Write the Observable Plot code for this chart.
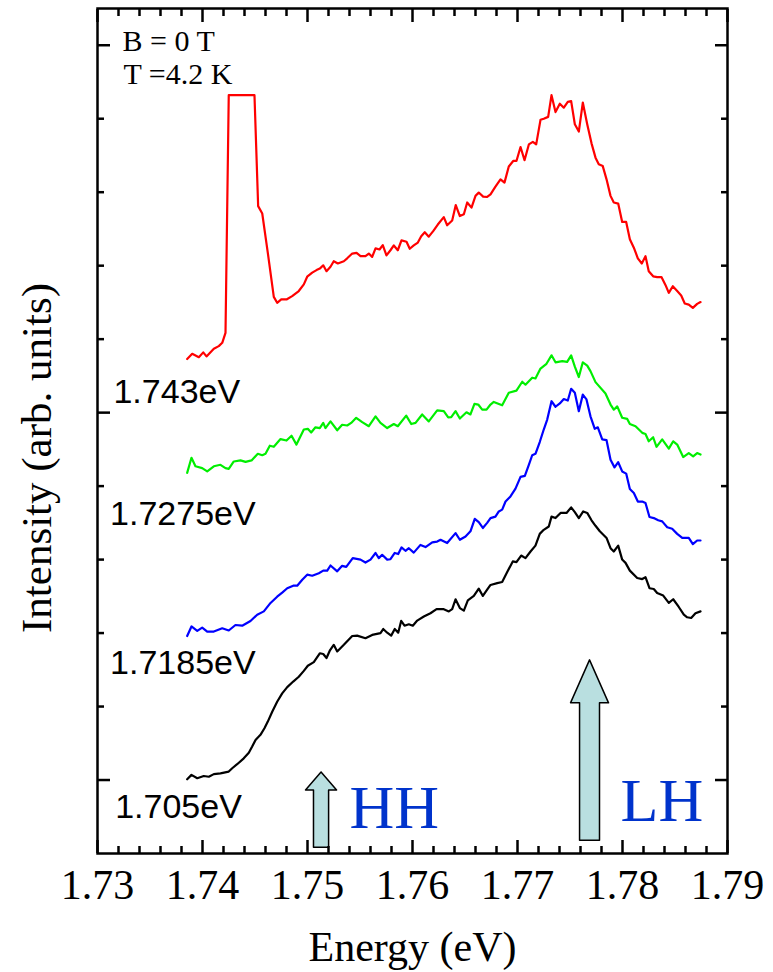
<!DOCTYPE html>
<html>
<head>
<meta charset="utf-8">
<script src="https://cdn.jsdelivr.net/npm/d3@7"></script>
<script src="https://cdn.jsdelivr.net/npm/@observablehq/plot@0.6"></script>
<style>
  html, body { margin: 0; padding: 0; background: #ffffff; }
  #chart { width: 773px; height: 972px; }
</style>
</head>
<body>
<div id="chart"></div>
<script>
// ---- Data ----
// Excitation energies of the four spectra
const seriesNames = ["1.743eV", "1.7275eV", "1.7185eV", "1.705eV"];
const seriesColors = ["#ff0000", "#00ee00", "#0000ff", "#000000"];

// Energies (eV) and intensities (arb. units) of each spectrum
const energy1743 = [
  1.73854,1.73902,1.73965,1.74007,1.74038,1.74108,1.74155,1.74188,1.74219,1.74250,
  1.74495,1.74530,1.74569,1.74622,1.74679,1.74711,1.74750,1.74800,1.74854,1.74917,
  1.74965,1.74997,1.75045,1.75086,1.75117,1.75150,1.75181,1.75219,1.75250,1.75289,
  1.75346,1.75378,1.75426,1.75467,1.75505,1.75552,1.75584,1.75616,1.75648,1.75686,
  1.75717,1.75752,1.75790,1.75822,1.75860,1.75895,1.75943,1.75974,1.76012,1.76051,
  1.76083,1.76117,1.76155,1.76197,1.76241,1.76298,1.76330,1.76378,1.76412,1.76451,
  1.76489,1.76521,1.76562,1.76600,1.76631,1.76673,1.76711,1.76743,1.76790,1.76838,
  1.76876,1.76917,1.76959,1.76990,1.77029,1.77067,1.77108,1.77146,1.77178,1.77219,
  1.77250,1.77292,1.77324,1.77362,1.77403,1.77441,1.77479,1.77511,1.77546,1.77584,
  1.77622,1.77664,1.77705,1.77743,1.77774,1.77812,1.77848,1.77886,1.77917,1.77959,
  1.77997,1.78035,1.78070,1.78108,1.78146,1.78184,1.78219,1.78250,1.78292,1.78330,
  1.78371,1.78410,1.78441,1.78479,1.78521,1.78559,1.78593,1.78631,1.78670,1.78711,1.78743
];
const intensity1743 = [
  114.6,116.0,115.1,116.4,115.3,117.4,118.1,119.0,121.7,186.4,
  186.4,156.2,154.2,143.5,131.5,129.9,130.8,130.8,131.7,133.1,
  134.9,137.0,138.1,138.8,139.2,140.1,138.5,139.7,141.2,140.6,
  141.2,142.0,143.3,143.5,142.6,142.6,143.3,142.4,144.7,144.4,
  145.6,142.8,144.2,145.5,144.2,146.9,146.5,144.6,145.5,146.3,
  148.0,149.1,147.9,149.4,151.2,153.2,151.0,152.3,156.5,153.5,
  154.0,157.2,155.8,159.0,159.9,158.8,158.7,159.4,161.5,163.5,
  162.6,167.0,168.5,168.5,172.3,168.7,173.0,173.7,173.0,179.7,
  180.0,180.5,186.4,181.8,184.1,183.0,184.6,184.8,178.5,176.5,
  184.4,178.5,173.3,169.4,167.6,167.1,163.5,159.0,157.2,156.9,
  151.9,151.9,147.2,144.9,142.0,140.6,142.6,138.5,137.1,136.9,
  136.9,134.7,132.6,134.4,133.1,131.9,129.7,129.4,128.5,129.6,130.1
];

const energy17275 = [
  1.73854,1.73895,1.73933,1.73997,1.74045,1.74108,1.74171,1.74219,1.74250,1.74298,
  1.74362,1.74410,1.74467,1.74527,1.74569,1.74600,1.74641,1.74679,1.74743,1.74800,
  1.74848,1.74895,1.74965,1.75003,1.75035,1.75076,1.75117,1.75150,1.75171,1.75219,
  1.75283,1.75330,1.75378,1.75416,1.75464,1.75521,1.75584,1.75648,1.75695,1.75759,
  1.75822,1.75860,1.75940,1.75988,1.76029,1.76092,1.76155,1.76235,1.76298,1.76340,
  1.76369,1.76410,1.76451,1.76514,1.76552,1.76590,1.76626,1.76664,1.76705,1.76743,
  1.76774,1.76854,1.76917,1.76990,1.77045,1.77076,1.77140,1.77171,1.77219,1.77276,
  1.77324,1.77362,1.77426,1.77473,1.77511,1.77546,1.77584,1.77622,1.77664,1.77695,
  1.77743,1.77838,1.77886,1.77917,1.77950,1.77997,1.78045,1.78070,1.78124,1.78188,
  1.78219,1.78250,1.78292,1.78324,1.78378,1.78441,1.78483,1.78521,1.78578,1.78631,
  1.78673,1.78711,1.78743
];
const intensity17275 = [
  83.6,87.7,85.4,84.9,84.0,85.4,85.8,84.9,84.7,86.7,
  87.0,86.6,87.0,88.8,88.4,88.8,91.0,90.7,92.8,92.4,
  93.7,91.3,95.4,95.6,94.6,96.0,95.8,97.2,95.8,97.6,
  95.2,96.7,96.5,97.2,98.6,97.4,96.3,99.0,97.2,95.8,
  96.9,96.3,99.2,96.9,97.2,99.5,97.6,100.6,100.4,98.7,
  98.8,100.4,98.4,100.1,99.5,102.4,102.2,100.8,100.8,102.2,
  102.9,102.0,105.4,106.0,108.4,107.6,109.5,109.3,112.0,113.3,
  115.6,113.7,114.0,113.8,115.6,112.5,109.7,113.7,112.8,111.3,
  108.3,105.2,102.2,100.8,101.7,98.6,98.3,96.9,96.3,94.5,
  94.2,92.2,93.3,90.7,92.7,90.2,92.2,91.3,87.9,89.0,
  88.1,89.0,88.6
];

const energy17185 = [
  1.73854,1.73895,1.73950,1.73997,1.74045,1.74108,1.74188,1.74250,1.74314,1.74378,
  1.74457,1.74521,1.74584,1.74648,1.74711,1.74759,1.74807,1.74864,1.74902,1.74950,
  1.74997,1.75045,1.75108,1.75150,1.75188,1.75219,1.75283,1.75330,1.75369,1.75431,
  1.75505,1.75552,1.75600,1.75648,1.75679,1.75711,1.75759,1.75790,1.75831,1.75864,
  1.75895,1.75933,1.75965,1.76012,1.76076,1.76124,1.76188,1.76235,1.76267,1.76330,
  1.76410,1.76451,1.76505,1.76552,1.76593,1.76631,1.76670,1.76711,1.76743,1.76790,
  1.76822,1.76854,1.76886,1.76933,1.76981,1.77029,1.77070,1.77108,1.77140,1.77171,
  1.77212,1.77250,1.77283,1.77324,1.77362,1.77403,1.77441,1.77479,1.77511,1.77546,
  1.77584,1.77622,1.77657,1.77695,1.77736,1.77765,1.77807,1.77848,1.77886,1.77924,
  1.77959,1.77997,1.78035,1.78070,1.78108,1.78146,1.78188,1.78219,1.78257,1.78298,
  1.78340,1.78378,1.78426,1.78473,1.78521,1.78569,1.78631,1.78670,1.78711,1.78743
];
const intensity17185 = [
  39.2,41.8,40.6,41.5,40.4,40.4,41.3,40.7,42.2,42.0,
  43.3,45.0,45.9,48.2,49.9,51.0,52.2,52.9,52.9,54.5,
  55.9,55.6,56.3,57.0,57.0,58.4,56.8,58.3,58.0,60.4,
  60.0,59.2,60.0,61.8,60.4,61.3,60.0,60.1,61.8,61.5,
  63.3,62.4,63.1,61.9,64.0,63.4,64.7,64.9,65.4,64.5,
  67.2,65.4,66.3,67.7,71.1,70.2,68.6,70.0,71.3,71.7,
  73.1,73.6,75.8,77.2,79.3,82.5,82.8,85.8,88.4,88.8,
  92.0,95.4,98.1,103.1,101.6,102.5,103.7,103.3,106.5,105.4,
  100.4,104.9,103.6,99.0,95.6,96.0,92.7,92.5,87.2,85.1,
  86.5,84.0,83.4,79.2,78.1,75.8,75.8,75.4,71.6,71.3,
  70.7,70.4,68.8,68.4,67.0,65.9,65.9,64.2,65.2,65.2
];

const energy1705 = [
  1.73854,1.73895,1.73950,1.74012,1.74060,1.74108,1.74171,1.74250,1.74283,1.74330,
  1.74393,1.74441,1.74473,1.74505,1.74552,1.74590,1.74622,1.74664,1.74711,1.74759,
  1.74807,1.74864,1.74917,1.74965,1.75003,1.75060,1.75117,1.75150,1.75181,1.75212,
  1.75250,1.75283,1.75346,1.75426,1.75473,1.75552,1.75616,1.75695,1.75721,1.75759,
  1.75797,1.75831,1.75864,1.75892,1.75924,1.75965,1.76003,1.76045,1.76108,1.76171,
  1.76229,1.76298,1.76346,1.76378,1.76410,1.76451,1.76489,1.76527,1.76584,1.76631,
  1.76670,1.76711,1.76743,1.76807,1.76854,1.76902,1.76955,1.76990,1.77035,1.77076,
  1.77124,1.77171,1.77212,1.77250,1.77298,1.77324,1.77362,1.77410,1.77467,1.77511,
  1.77546,1.77584,1.77626,1.77664,1.77705,1.77743,1.77784,1.77848,1.77886,1.77917,
  1.77959,1.77997,1.78029,1.78070,1.78140,1.78188,1.78219,1.78257,1.78298,1.78330,
  1.78388,1.78441,1.78483,1.78536,1.78584,1.78616,1.78654,1.78695,1.78743
];
const intensity1705 = [
  0.2,1.4,0.5,1.1,0.9,1.6,1.8,2.3,3.2,4.3,
  5.9,7.4,9.1,10.9,12.3,14.1,15.9,18.6,21.3,23.6,
  25.3,26.8,28.1,29.7,31.1,32.1,34.5,34.3,33.2,35.2,
  36.8,35.0,36.8,39.2,39.3,38.6,39.5,40.0,41.1,40.1,
  39.3,41.1,40.1,43.3,42.0,42.4,42.0,43.4,44.5,45.4,
  46.5,46.5,45.9,46.5,49.2,46.8,46.1,48.9,50.1,52.1,
  50.1,51.8,53.1,53.6,53.9,56.6,59.5,59.3,61.1,60.4,
  62.2,63.8,67.0,68.1,69.0,71.7,71.3,72.7,72.7,74.2,
  72.9,71.3,73.1,72.7,70.7,69.2,67.7,65.9,63.1,62.2,
  63.8,60.0,59.1,57.0,55.0,54.7,55.2,52.2,52.0,50.9,
  50.2,48.2,49.2,47.1,45.0,44.3,44.1,45.4,45.9
];

// Where each spectrum's label sits (eV, arb. units)
const labelEnergy = [1.73152, 1.73120, 1.73120, 1.73168];
const labelIntensity = [102.7, 69.5, 28.9, -10.4];

// Transition arrows: HH and LH
const arrowNames = ["HH", "LH"];
const arrowEnergy = [1.75129, 1.77686];
const arrowFrom = [-18.3, -16.4];
const arrowTo = [2.2, 32.7];
const arrowLabelEnergy = [1.75400, 1.77981];
const arrowLabelIntensity = [-13.1, -11.2];

// Axis ticks
const xMajor = [1.73, 1.74, 1.75, 1.76, 1.77, 1.78, 1.79];
const xTickLabels = ["1.73", "1.74", "1.75", "1.76", "1.77", "1.78", "1.79"];
const xMinor = [1.732,1.734,1.736,1.738,1.742,1.744,1.746,1.748,1.752,1.754,1.756,1.758,
  1.762,1.764,1.766,1.768,1.772,1.774,1.776,1.778,1.782,1.784,1.786,1.788];
const yMajor = [0, 100, 200];
const yMinor = [20, 40, 60, 80, 120, 140, 160, 180];

const infoLine1 = "B = 0 T";
const infoLine2 = "T =4.2 K";

// ---- Build tables ----
const energies = [energy1743, energy17275, energy17185, energy1705];
const intensities = [intensity1743, intensity17275, intensity17185, intensity1705];
const spectra = seriesNames.map((name, k) =>
  energies[k].map((e, i) => ({name, E: e, I: intensities[k][i]}))
);

// arrow outline shapes (sizes are style)
const arrowStyle = [
  {shaftHalf: 0.00072, headHalf: 0.00148, headLen: 4.9},
  {shaftHalf: 0.00095, headHalf: 0.00181, headLen: 11.7}
];
const arrowPoly = arrowNames.flatMap((name, k) => {
  const e = arrowEnergy[k], b = arrowFrom[k], t = arrowTo[k];
  const {shaftHalf: s, headHalf: h, headLen: L} = arrowStyle[k];
  return [
    [e - s, b], [e - s, t - L], [e - h, t - L], [e, t],
    [e + h, t - L], [e + s, t - L], [e + s, b]
  ].map(([E, I]) => ({name, E, I}));
});

const serif = "'Liberation Serif', 'Times New Roman', Times, serif";
const sans = "'Liberation Sans', Arial, Helvetica, sans-serif";
const axisW = 2.5;

const tickAxes = [
  Plot.axisX(xMajor, {anchor: "bottom", tickSize: -13, strokeWidth: axisW, fill: "none", label: null}),
  Plot.axisX(xMinor, {anchor: "bottom", tickSize: -7, strokeWidth: axisW, fill: "none", label: null}),
  Plot.axisX(xMajor, {anchor: "top", tickSize: -13, strokeWidth: axisW, fill: "none", label: null}),
  Plot.axisX(xMinor, {anchor: "top", tickSize: -7, strokeWidth: axisW, fill: "none", label: null}),
  Plot.axisY(yMajor, {anchor: "left", tickSize: -13, strokeWidth: axisW, fill: "none", label: null}),
  Plot.axisY(yMinor, {anchor: "left", tickSize: -7, strokeWidth: axisW, fill: "none", label: null}),
  Plot.axisY(yMajor, {anchor: "right", tickSize: -13, strokeWidth: axisW, fill: "none", label: null}),
  Plot.axisY(yMinor, {anchor: "right", tickSize: -7, strokeWidth: axisW, fill: "none", label: null})
];

const chart = Plot.plot({
  width: 773,
  height: 972,
  marginLeft: 97,
  marginRight: 46,
  marginTop: 8,
  marginBottom: 119,
  x: {domain: [1.73, 1.79]},
  y: {domain: [-20, 210]},
  style: {background: "#ffffff", fontFamily: serif, color: "#000000", overflow: "visible"},
  marks: [
    ...spectra.map((rows, k) =>
      Plot.line(rows, {x: "E", y: "I", stroke: seriesColors[k], strokeWidth: 2.2, strokeLinejoin: "round"})
    ),
    Plot.line(arrowPoly, {x: "E", y: "I", z: "name", fill: "#b9dfe0", stroke: "#000000", strokeWidth: 1.5, curve: "linear-closed"}),
    Plot.text(arrowNames, {
      x: (d, i) => arrowLabelEnergy[i], y: (d, i) => arrowLabelIntensity[i], text: d => d,
      textAnchor: "start", lineAnchor: "bottom", fontSize: 62, fontFamily: serif, fill: "#0033cc"
    }),
    Plot.text(seriesNames, {
      x: (d, i) => labelEnergy[i], y: (d, i) => labelIntensity[i], text: d => d,
      textAnchor: "start", lineAnchor: "bottom", fontSize: 34, fontFamily: sans, fill: "#000000"
    }),
    Plot.text([infoLine1], {
      frameAnchor: "top-left", text: d => d, dx: 25, dy: 42,
      textAnchor: "start", lineAnchor: "bottom", fontSize: 30, fontFamily: serif, fill: "#000000"
    }),
    Plot.text([infoLine2], {
      frameAnchor: "top-left", text: d => d, dx: 26, dy: 75,
      textAnchor: "start", lineAnchor: "bottom", fontSize: 30, fontFamily: serif, fill: "#000000"
    }),
    Plot.frame({stroke: "#000000", strokeWidth: axisW}),
    ...tickAxes,
    Plot.axisX(xMajor, {
      anchor: "bottom", tickSize: 0, tickPadding: 16, fontSize: 42, fontFamily: serif,
      tickFormat: (d) => xTickLabels[xMajor.indexOf(d)], label: null
    }),
    Plot.text(["Energy (eV)"], {frameAnchor: "bottom", text: d => d, dy: 107, lineAnchor: "bottom", fontSize: 42, fontFamily: serif}),
    Plot.text(["Intensity (arb. units)"], {frameAnchor: "left", text: d => d, rotate: -90, dx: -47, dy: 27, lineAnchor: "bottom", textAnchor: "middle", fontSize: 43, fontFamily: serif})
  ]
});

document.getElementById("chart").appendChild(chart);
</script>
</body>
</html>
